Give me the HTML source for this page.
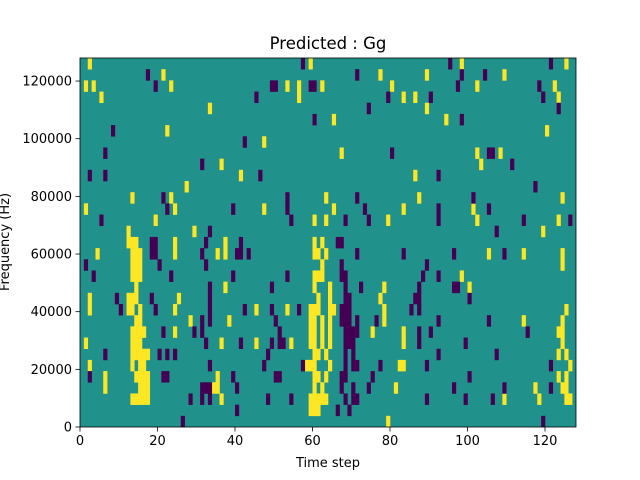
<!DOCTYPE html>
<html><head><meta charset="utf-8"><style>
html,body{margin:0;padding:0;background:#fff;}
svg{display:block;font-family:"DejaVu Sans","Liberation Sans",sans-serif;}
</style></head><body>
<svg id="chart" width="640" height="480" viewBox="0 0 640 480" xmlns="http://www.w3.org/2000/svg">
<rect width="640" height="480" fill="#fff"/>
<text x="328" y="49" font-size="16.5" text-anchor="middle">Predicted : Gg</text>
<text x="328" y="467" font-size="13" text-anchor="middle">Time step</text>
<text transform="translate(9,242) rotate(-90)" font-size="13" text-anchor="middle">Frequency (Hz)</text>
<g id="cells"></g>
<g id="axes"></g>
</svg>
<script>
// Frequency bins ordered from top (highest, bin 32) to bottom (bin 0); values = time steps
const yellowSteps = [
[2,59,98,125],[21,77,89,109],[1,3,23,53,56,62,80,102,122],[5,56,83,86,123],[33,89],[65,94],[22,120],[47],
[67,102,108],[36,103],[41,86],[27],[13,23,63,87,124],[1,24,47,65,83,101],[19,60,63,79,102,123],[12,29,119],
[12,13,14,24,37,60,62],[4,13,14,15,24,35,37,60,61,63,105,114,124],[13,14,15,62,124],[13,14,15,60,61,62,98],
[14,37,60,64,78,100],[2,12,13,14,25,61,64,77],[2,12,13,15,24,45,53,59,60,61,64,65,78,125],
[14,15,28,38,59,60,62,64,78,114,124],[13,14,15,16,24,59,60,62,64,75,83,123,124],
[1,13,14,15,36,45,54,59,60,62,64,83,124],[13,14,15,16,17,60,61,63,123,125],
[2,13,15,16,58,59,60,64,82,83,126],[6,14,15,16,17,35,60,61,63,123,125],
[6,15,16,17,34,35,60,62,81,117,124,125],[13,14,15,16,17,36,59,60,61,62,63,109,118,125,126],
[59,60,61],[79]
];
const purpleSteps = [
[57,95,121],[17,71,98,104],[19,49,50,59,60,97,118],[45,79,90,119],[74,123],[60,98],[8],[42],
[6,80,105,106],[31,111],[2,6,46,92],[117],[21,53,71,101],[22,39,53,73,92,105],[5,54,68,74,92,114,126],[33,107],
[18,19,32,41,66,67],[18,19,31,40,41,43,71,83,96,109],[1,20,32,67,89],[3,23,39,53,67,68,88,92],
[33,49,68,72,87,96,97],[9,18,33,68,69,86,87,100],[10,19,33,42,49,56,67,68,69,85,87],
[31,33,50,67,68,69,71,76,92,105],[21,29,31,51,68,69,70,71,87,90,115],[32,41,49,51,52,68,69,70,87,99],
[6,20,22,24,48,68,70,92,107],[33,47,57,68,70,71,77,89,121],[2,21,22,39,50,51,67,68,75,100],
[31,32,33,40,67,70,74,96,109,121],[28,31,33,48,54,68,70,71,89,99,106],[40,66,69],[26,119]
];
const xTicks = [0,20,40,60,80,100,120];
const yTicks = [0,20000,40000,60000,80000,100000,120000];
const nSteps = 128, nBins = 33, fMax = 128000;

const L=80,R=576,T=58,B=427;
const xs = t => L + t*(R-L)/nSteps;
const ys = f => B - f*(B-T)/fMax;
const binH = fMax/nBins;
const NS="http://www.w3.org/2000/svg";
const cells=document.getElementById('cells');
const axes=document.getElementById('axes');
function mk(tag,attrs,parent){const e=document.createElementNS(NS,tag);for(const k in attrs)e.setAttribute(k,attrs[k]);parent.appendChild(e);return e;}
const bg=mk('rect',{x:L,y:T,width:R-L,height:B-T,fill:'#21918c'},cells);


function drawSet(arr,color,name){
  arr.forEach((steps,i)=>{
    const bin = nBins-1-i;
    steps.forEach(t=>{
      const y1=ys((bin+1)*binH), y0=ys(bin*binH);
      const r=mk('rect',{x:xs(t),y:y1,width:xs(t+1)-xs(t)+0.3,height:y0-y1+0.3,fill:color},cells);
      
      
    });
  });
}
drawSet(yellowSteps,'#fde725','cell-high');
drawSet(purpleSteps,'#440154','cell-low');
const frame=mk('rect',{x:L,y:T,width:R-L,height:B-T,fill:'none',stroke:'#000','stroke-width':0.8},axes);


xTicks.forEach(v=>{
  const x=xs(v);
  const tk=mk('line',{x1:x,x2:x,y1:B,y2:B+4.5,stroke:'#000','stroke-width':0.8},axes);
  
  
  const tx=mk('text',{x:x,y:B+18,'font-size':13,'text-anchor':'middle'},axes);
  tx.textContent=v;
  
  
});
yTicks.forEach(v=>{
  const y=ys(v);
  const tk=mk('line',{x1:L-4.5,x2:L,y1:y,y2:y,stroke:'#000','stroke-width':0.8},axes);
  
  
  const tx=mk('text',{x:L-8,y:y+4.5,'font-size':13,'text-anchor':'end'},axes);
  tx.textContent=v;
  
  
});
</script>
</body></html>
